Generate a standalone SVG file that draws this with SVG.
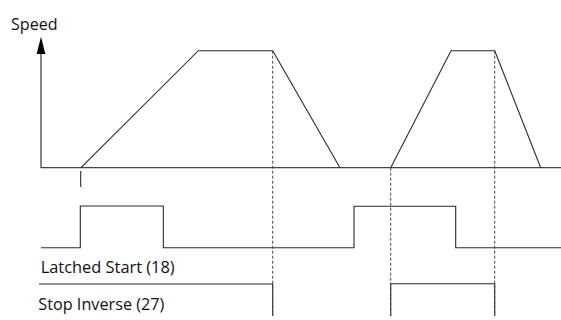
<svg xmlns="http://www.w3.org/2000/svg" width="561" height="320" viewBox="0 0 561 320">
<style>
.ln{fill:none;stroke:#2a2a2a;stroke-width:1.1;stroke-linejoin:miter}
.ax{fill:none;stroke:#444;stroke-width:1.3}
.ds{fill:none;stroke:#444;stroke-width:1;stroke-dasharray:3,2}
.t{font-family:"Open Sans","Liberation Sans",sans-serif;font-size:16px;fill:#111}
.ah{fill:#000}
</style>
<rect width="561" height="320" fill="#fff"/>
<g id="axes">
<line class="ax" x1="41" y1="168" x2="41" y2="54"/>
<path class="ah" d="M36.7,54 L41,36.7 L45.3,54 Z"/>
<line class="ax" x1="41" y1="167.7" x2="561" y2="167.7"/>
<line class="ln" x1="80.7" y1="171" x2="80.7" y2="187"/>
<text class="t" x="11" y="29.5" textLength="46.7" lengthAdjust="spacingAndGlyphs">Speed</text>
</g>
<g id="speed-profile">
<polyline class="ln" points="81,167.7 198.3,50.7 272.7,50.7 340,167.7"/>
<polyline class="ln" points="390.7,167.7 451,50.7 494.7,50.7 540.7,167.7"/>
</g>
<g id="latched-start">
<polyline class="ln" points="41,247.7 80.3,247.7 80.3,206 163.3,206 163.3,247.7 354,247.7 354,206.3 455.7,206.3 455.7,247.7 561,247.7"/>
<text class="t" x="40.7" y="272.5" textLength="134" lengthAdjust="spacingAndGlyphs">Latched Start (18)</text>
</g>
<g id="stop-inverse">
<polyline class="ln" points="39,284 272.7,284 272.7,316"/>
<polyline class="ln" points="390.7,316 390.7,283.7 494.7,283.7 494.7,316"/>
<text class="t" x="38.3" y="309.5" textLength="126" lengthAdjust="spacingAndGlyphs">Stop Inverse (27)</text>
</g>
<g id="connectors">
<line class="ds" x1="272.7" y1="50.7" x2="272.7" y2="316"/>
<line class="ds" x1="390.7" y1="167.7" x2="390.7" y2="316"/>
<line class="ds" x1="494.7" y1="50.7" x2="494.7" y2="316"/>
</g>
</svg>
